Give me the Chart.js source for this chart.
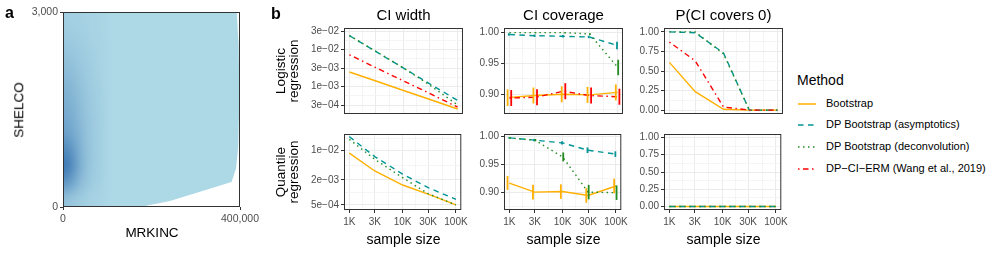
<!DOCTYPE html>
<html>
<head>
<meta charset="utf-8">
<script src="https://cdn.jsdelivr.net/npm/chart.js@4.4.1/dist/chart.umd.min.js"></script>
<style>
  body { margin: 0; width: 997px; height: 253px; overflow: hidden; position: relative; background: #fff;
         font-family: "Liberation Sans", Arial, Helvetica, sans-serif; }
  canvas { position: absolute; }
  .t { position: absolute; white-space: nowrap; line-height: 1; color: #000; }
  .c { transform: translateX(-50%); }
  .r { transform: translate(-50%, -50%) rotate(-90deg); text-align: center; }
  .bold { font-weight: bold; }
</style>
</head>
<body>
<div class="t bold" style="left:5px;top:5px;font-size:16px">a</div>
<div class="t bold" style="left:271px;top:6px;font-size:16px">b</div>

<div class="t r" style="left:19px;top:110px;font-size:13.5px">SHELCO</div>
<div class="t c" style="left:152px;top:226px;font-size:13.5px">MRKINC</div>

<div class="t c" style="left:403.5px;top:7px;font-size:15px">CI width</div>
<div class="t c" style="left:563.5px;top:7px;font-size:15px">CI coverage</div>
<div class="t c" style="left:723.5px;top:7px;font-size:15px">P(CI covers 0)</div>

<div class="t r" style="left:286.5px;top:71px;font-size:13.5px;line-height:13px">Logistic<br>regression</div>
<div class="t r" style="left:286.5px;top:172px;font-size:13.5px;line-height:13px">Quantile<br>regression</div>

<div class="t c" style="left:403.5px;top:232px;font-size:14px">sample size</div>
<div class="t c" style="left:563.5px;top:232px;font-size:14px">sample size</div>
<div class="t c" style="left:723.5px;top:232px;font-size:14px">sample size</div>

<div class="t" style="left:797px;top:73px;font-size:14px">Method</div>
<div id="legend"></div>

<script>
// ---- panel a: MRKINC vs SHELCO density ----
const regionX = [0, 173600, 241500, 381000, 391000, 396000, 398500, 397000, 392500, 0];
const regionY = [0, 0, 92, 385, 591, 925, 1644, 2500, 3000, 3000];
// density cells over MRKINC 0..120k, SHELCO 0..3000 (rows top -> bottom), 0 = light, 1 = darkest
const densityX = [0, 120000];
const densityY = [0, 3000];
const densityGrid = [
  [0.10, 0.09, 0.08, 0.07, 0.05, 0.04, 0.02, 0],
  [0.15, 0.13, 0.11, 0.09, 0.06, 0.05, 0.02, 0],
  [0.22, 0.19, 0.15, 0.12, 0.08, 0.06, 0.03, 0],
  [0.30, 0.26, 0.20, 0.15, 0.10, 0.07, 0.03, 0],
  [0.38, 0.33, 0.25, 0.18, 0.12, 0.08, 0.03, 0],
  [0.45, 0.40, 0.30, 0.21, 0.14, 0.09, 0.04, 0],
  [0.52, 0.45, 0.34, 0.23, 0.15, 0.10, 0.04, 0],
  [0.62, 0.52, 0.38, 0.25, 0.16, 0.10, 0.04, 0],
  [0.85, 0.68, 0.45, 0.28, 0.17, 0.10, 0.04, 0],
  [1.00, 0.78, 0.48, 0.28, 0.16, 0.10, 0.04, 0],
  [0.70, 0.55, 0.35, 0.22, 0.13, 0.08, 0.03, 0],
  [0.25, 0.20, 0.14, 0.10, 0.07, 0.05, 0.02, 0]
];
const mrkincTicks = [0, 400000];
const shelcoTicks = [0, 3000];

// ---- panel b ----
const sampleSizes = [1000, 3000, 10000, 30000, 100000];
const sizeLabels = ['1K', '3K', '10K', '30K', '100K'];
const methodNames = ['Bootstrap', 'DP Bootstrap (asymptotics)', 'DP Bootstrap (deconvolution)',
                     'DP\u2212CI\u2212ERM (Wang et al., 2019)'];

// CI width
const logitWidthBoot   = [2.4e-3, 1.39e-3, 7.6e-4, 4.4e-4, 2.4e-4];
const logitWidthAsym   = [2.3e-2, 8.8e-3, 3.06e-3, 1.17e-3, 4.1e-4];
const logitWidthDeconv = [2.32e-2, 8.9e-3, 3.1e-3, 1.08e-3, 3.1e-4];
const logitWidthErm    = [7.0e-3, 3.2e-3, 1.38e-3, 6.4e-4, 2.7e-4];
const quantWidthBoot   = [8.7e-3, 3.26e-3, 1.5e-3, 9.1e-4, 5.0e-4];
const quantWidthAsym   = [2.17e-2, 7.2e-3, 2.75e-3, 1.3e-3, 6.8e-4];
const quantWidthDeconv = [1.87e-2, 6.2e-3, 2.25e-3, 9.3e-4, 5.0e-4];

// CI coverage with interval ends
const logitCovBoot     = [0.895, 0.898, 0.900, 0.899, 0.903];
const logitCovBootLo   = [0.881, 0.885, 0.887, 0.886, 0.890];
const logitCovBootHi   = [0.908, 0.911, 0.913, 0.912, 0.916];
const logitCovAsym     = [0.997, 0.995, 0.994, 0.993, 0.979];
const logitCovAsymLo   = [0.995, 0.993, 0.992, 0.991, 0.973];
const logitCovAsymHi   = [0.999, 0.997, 0.996, 0.995, 0.985];
const logitCovDeconv   = [1.000, 1.000, 1.000, 0.998, 0.944];
const logitCovDeconvLo = [1.000, 0.999, 0.999, 0.997, 0.931];
const logitCovDeconvHi = [1.000, 1.000, 1.000, 0.999, 0.956];
const logitCovErm      = [0.894, 0.895, 0.905, 0.898, 0.896];
const logitCovErmLo    = [0.881, 0.882, 0.892, 0.885, 0.883];
const logitCovErmHi    = [0.907, 0.908, 0.918, 0.911, 0.909];
const quantCovBoot     = [0.916, 0.900, 0.901, 0.894, 0.911];
const quantCovBootLo   = [0.904, 0.887, 0.888, 0.881, 0.898];
const quantCovBootHi   = [0.929, 0.913, 0.914, 0.907, 0.924];
const quantCovAsym     = [0.997, 0.993, 0.988, 0.975, 0.968];
const quantCovAsymLo   = [0.996, 0.991, 0.985, 0.970, 0.963];
const quantCovAsymHi   = [0.998, 0.995, 0.991, 0.980, 0.973];
const quantCovDeconv   = [0.997, 0.993, 0.963, 0.900, 0.899];
const quantCovDeconvLo = [0.996, 0.991, 0.955, 0.887, 0.886];
const quantCovDeconvHi = [0.998, 0.995, 0.971, 0.913, 0.912];

// P(CI covers 0)
const logitP0Boot   = [0.61, 0.235, 0.01, 0, 0];
const logitP0Asym   = [1.00, 0.99, 0.73, 0, 0];
const logitP0Deconv = [1.00, 1.00, 0.72, 0, 0];
const logitP0Erm    = [0.87, 0.63, 0.04, 0, 0];
const quantP0Boot   = [0, 0, 0, 0, 0];
const quantP0Asym   = [0, 0, 0, 0, 0];
const quantP0Deconv = [0, 0, 0, 0, 0];

// axis breaks
const logitWidthTicks = [3e-4, 1e-3, 3e-3, 1e-2, 3e-2];
const quantWidthTicks = [5e-4, 2e-3, 1e-2];
const coverageTicks = [0.90, 0.95, 1.00];
const p0Ticks = [0, 0.25, 0.5, 0.75, 1];

// styles
const methodColors = ['#FFB000', '#009494', '#228B22', '#FF0000'];
const methodDash = [[], [5.5, 4.5], [1.5, 3.5], [1.5, 3.5, 5.5, 3.5]];
const tickFont = { family: "'Liberation Sans', Arial, sans-serif", size: 10 };
const tickGrey = '#4D4D4D';
const frameGrey = '#333333';

Chart.defaults.font.family = "'Liberation Sans', Arial, sans-serif";

const colLeft = [344, 504, 664], panelW = 119;
const rowTop = [28, 134], rowH = [86, 76];
const PAD = 8, YW = 48, XH = 18;

const panelBox = {
  id: 'panelBox',
  afterDraw(chart) {
    const a = chart.chartArea, ctx = chart.ctx;
    ctx.save();
    ctx.strokeStyle = frameGrey;
    ctx.lineWidth = 1;
    ctx.strokeRect(a.left + 0.5, a.top + 0.5, a.right - a.left - 1, a.bottom - a.top - 1);
    ctx.restore();
  }
};

const errorBars = {
  id: 'errorBars',
  afterDatasetsDraw(chart) {
    const { ctx, scales: { x, y } } = chart;
    chart.data.datasets.forEach(ds => {
      if (!ds.errLo) return;
      ctx.save();
      ctx.strokeStyle = ds.borderColor;
      ctx.lineWidth = 1.8;
      ds.data.forEach((p, k) => {
        const px = x.getPixelForValue(p.x) + ds.dodge;
        ctx.beginPath();
        ctx.moveTo(px, y.getPixelForValue(ds.errLo[k]));
        ctx.lineTo(px, y.getPixelForValue(ds.errHi[k]));
        ctx.stroke();
      });
      ctx.restore();
    });
  }
};

// major breaks plus ggplot-style minor breaks (midpoints) inside [min, max]
function gridTicks(major, min, max, log) {
  const f = log ? Math.log10 : v => v;
  const g = log ? v => Math.pow(10, v) : v => v;
  const t = major.map(f);
  const d = t[1] - t[0];
  const ext = [t[0] - d].concat(t, [t[t.length - 1] + d]);
  const out = major.map(v => ({ value: v, major: true }));
  for (let i = 0; i < ext.length - 1; i++) out.push({ value: g((ext[i] + ext[i + 1]) / 2), major: false });
  return out.filter(o => o.value >= min * 0.9999 && o.value <= max * 1.0001 || (o.value >= min && o.value <= max))
            .sort((a, b) => a.value - b.value);
}

function sci(v) {
  const [m, e] = v.toExponential(0).split('e');
  const n = parseInt(e, 10);
  return m + 'e' + (n < 0 ? '\u2212' : '+') + String(Math.abs(n)).padStart(2, '0');
}

const gridStyle = {
  color: c => c.tick && c.tick.major ? '#EBEBEB' : '#F3F3F3',
  lineWidth: c => c.tick && c.tick.major ? 1 : 0.8,
  tickColor: c => c.tick && c.tick.major ? frameGrey : 'rgba(0,0,0,0)',
  tickWidth: 1,
  tickLength: 3
};

const xMin = 794.3, xMax = 125893;
const sizeLabelOf = {};
sampleSizes.forEach((n, i) => { sizeLabelOf[n] = sizeLabels[i]; });

function makePanel(col, row, axis, series) {
  const h = rowH[row], bottomRow = row === 1;
  const cv = document.createElement('canvas');
  cv.width = YW + panelW + PAD;
  cv.height = PAD + h + (bottomRow ? XH : PAD);
  cv.style.left = (colLeft[col] - YW) + 'px';
  cv.style.top = (rowTop[row] - PAD) + 'px';
  document.body.appendChild(cv);
  const isLog = axis.type === 'logarithmic';
  new Chart(cv, {
    type: 'line',
    data: {
      datasets: series.map(s => ({
        label: methodNames[s.m],
        data: sampleSizes.map((n, k) => ({ x: n, y: s.y[k] })),
        borderColor: methodColors[s.m],
        borderDash: methodDash[s.m],
        borderWidth: 1.4,
        pointRadius: 0,
        fill: false,
        tension: 0,
        order: 4 - s.m,
        errLo: s.lo,
        errHi: s.hi,
        dodge: (s.m - 1.5) * 1.2
      }))
    },
    options: {
      responsive: false, animation: false, devicePixelRatio: 1,
      layout: { padding: { top: PAD, right: PAD, bottom: bottomRow ? 0 : PAD, left: 0 } },
      plugins: { legend: { display: false }, tooltip: { enabled: false } },
      scales: {
        x: {
          type: 'logarithmic', min: xMin, max: xMax, bounds: 'data',
          afterBuildTicks: sc => { sc.ticks = gridTicks(sampleSizes, xMin, xMax, true); },
          afterFit: sc => { sc.height = bottomRow ? XH : 0; },
          border: { display: false },
          grid: Object.assign({ drawTicks: bottomRow }, gridStyle),
          ticks: {
            display: bottomRow, autoSkip: false, maxRotation: 0, padding: 3,
            font: tickFont, color: tickGrey,
            callback: (v, i, ticks) => ticks[i].major ? sizeLabelOf[ticks[i].value] : ''
          }
        },
        y: {
          type: axis.type, min: axis.min, max: axis.max, bounds: 'data',
          afterBuildTicks: sc => { sc.ticks = gridTicks(axis.major, axis.min, axis.max, isLog); },
          afterFit: sc => { sc.width = YW; },
          border: { display: false },
          grid: gridStyle,
          ticks: {
            autoSkip: false, padding: 2, font: tickFont, color: tickGrey,
            callback: (v, i, ticks) => ticks[i].major ? axis.fmt(ticks[i].value) : ''
          }
        }
      }
    },
    plugins: [errorBars, panelBox]
  });
}

const fixed2 = v => v.toFixed(2);
const logitWidthAxis = { type: 'logarithmic', min: 1.76e-4, max: 0.0371, major: logitWidthTicks, fmt: sci };
const quantWidthAxis = { type: 'logarithmic', min: 3.78e-4, max: 0.0251, major: quantWidthTicks, fmt: sci };
const logitCovAxis = { type: 'linear', min: 0.868, max: 1.0075, major: coverageTicks, fmt: fixed2 };
const quantCovAxis = { type: 'linear', min: 0.868, max: 1.004, major: coverageTicks, fmt: fixed2 };
const p0Axis = { type: 'linear', min: -0.05, max: 1.05, major: p0Ticks, fmt: fixed2 };

makePanel(0, 0, logitWidthAxis, [
  { m: 0, y: logitWidthBoot }, { m: 1, y: logitWidthAsym },
  { m: 2, y: logitWidthDeconv }, { m: 3, y: logitWidthErm }]);
makePanel(1, 0, logitCovAxis, [
  { m: 0, y: logitCovBoot, lo: logitCovBootLo, hi: logitCovBootHi },
  { m: 1, y: logitCovAsym, lo: logitCovAsymLo, hi: logitCovAsymHi },
  { m: 2, y: logitCovDeconv, lo: logitCovDeconvLo, hi: logitCovDeconvHi },
  { m: 3, y: logitCovErm, lo: logitCovErmLo, hi: logitCovErmHi }]);
makePanel(2, 0, p0Axis, [
  { m: 0, y: logitP0Boot }, { m: 1, y: logitP0Asym },
  { m: 2, y: logitP0Deconv }, { m: 3, y: logitP0Erm }]);
makePanel(0, 1, quantWidthAxis, [
  { m: 0, y: quantWidthBoot }, { m: 1, y: quantWidthAsym }, { m: 2, y: quantWidthDeconv }]);
makePanel(1, 1, quantCovAxis, [
  { m: 0, y: quantCovBoot, lo: quantCovBootLo, hi: quantCovBootHi },
  { m: 1, y: quantCovAsym, lo: quantCovAsymLo, hi: quantCovAsymHi },
  { m: 2, y: quantCovDeconv, lo: quantCovDeconvLo, hi: quantCovDeconvHi }]);
makePanel(2, 1, p0Axis, [
  { m: 0, y: quantP0Boot }, { m: 1, y: quantP0Asym }, { m: 2, y: quantP0Deconv }]);

// ---- panel a chart ----
const lightRGB = [173, 216, 230], darkRGB = [66, 125, 183];
const densityLayer = {
  id: 'densityLayer',
  afterDatasetsDraw(chart) {
    const { ctx, scales: { x, y } } = chart;
    const rows = densityGrid.length, cols = densityGrid[0].length;
    const off = document.createElement('canvas');
    off.width = cols; off.height = rows;
    const octx = off.getContext('2d');
    const img = octx.createImageData(cols, rows);
    densityGrid.forEach((r, ri) => r.forEach((v, ci) => {
      const k = (ri * cols + ci) * 4;
      for (let j = 0; j < 3; j++) img.data[k + j] = Math.round(lightRGB[j] + (darkRGB[j] - lightRGB[j]) * v);
      img.data[k + 3] = 255;
    }));
    octx.putImageData(img, 0, 0);
    const x0 = x.getPixelForValue(densityX[0]), x1 = x.getPixelForValue(densityX[1]);
    const y0 = y.getPixelForValue(densityY[1]), y1 = y.getPixelForValue(densityY[0]);
    ctx.save();
    ctx.imageSmoothingEnabled = true;
    ctx.imageSmoothingQuality = 'high';
    ctx.drawImage(off, x0, y0, x1 - x0, y1 - y0);
    ctx.restore();
  }
};

const cvA = document.createElement('canvas');
cvA.width = 280; cvA.height = 253;
cvA.style.left = '0px'; cvA.style.top = '0px';
document.body.insertBefore(cvA, document.body.firstChild);
new Chart(cvA, {
  type: 'line',
  data: {
    datasets: [{
      data: regionX.map((v, i) => ({ x: v, y: regionY[i] })),
      fill: 'shape',
      backgroundColor: 'rgb(173,216,230)',
      borderColor: 'rgba(0,0,0,0)',
      borderWidth: 0,
      pointRadius: 0,
      tension: 0
    }]
  },
  options: {
    responsive: false, animation: false, devicePixelRatio: 1,
    layout: { padding: { top: 12, right: 40, bottom: 0, left: 0 } },
    plugins: { legend: { display: false }, tooltip: { enabled: false } },
    scales: {
      x: {
        type: 'linear', min: 0, max: 400000, bounds: 'data',
        afterBuildTicks: sc => { sc.ticks = mrkincTicks.map(v => ({ value: v })); },
        afterFit: sc => { sc.height = 46; },
        border: { display: false },
        grid: { drawOnChartArea: false, tickColor: frameGrey, tickLength: 3, tickWidth: 1 },
        ticks: { autoSkip: false, maxRotation: 0, padding: 3, font: { size: 10.5 }, color: tickGrey,
                 callback: v => v.toLocaleString('en-US') }
      },
      y: {
        type: 'linear', min: 0, max: 3000, bounds: 'data',
        afterBuildTicks: sc => { sc.ticks = shelcoTicks.map(v => ({ value: v })); },
        afterFit: sc => { sc.width = 63; },
        border: { display: false },
        grid: { drawOnChartArea: false, tickColor: frameGrey, tickLength: 3, tickWidth: 1 },
        ticks: { autoSkip: false, padding: 2, font: { size: 10.5 }, color: tickGrey,
                 callback: v => v.toLocaleString('en-US') }
      }
    }
  },
  plugins: [densityLayer, panelBox]
});

// ---- legend ----
const legendY = [103.5, 125.2, 146.8, 168.5];
const leg = document.getElementById('legend');
methodNames.forEach((name, i) => {
  const svg = document.createElementNS('http://www.w3.org/2000/svg', 'svg');
  svg.setAttribute('width', '20'); svg.setAttribute('height', '4');
  svg.style.position = 'absolute';
  svg.style.left = '797px';
  svg.style.top = (legendY[i] - 2) + 'px';
  const ln = document.createElementNS('http://www.w3.org/2000/svg', 'line');
  ln.setAttribute('x1', '1'); ln.setAttribute('x2', '19');
  ln.setAttribute('y1', '2'); ln.setAttribute('y2', '2');
  ln.setAttribute('stroke', methodColors[i]);
  ln.setAttribute('stroke-width', '1.5');
  if (methodDash[i].length) ln.setAttribute('stroke-dasharray', methodDash[i].join(' '));
  svg.appendChild(ln);
  leg.appendChild(svg);
  const d = document.createElement('div');
  d.className = 't';
  d.style.left = '826px';
  d.style.top = (legendY[i] - 6) + 'px';
  d.style.fontSize = '11px';
  d.textContent = name;
  leg.appendChild(d);
});
</script>
</body>
</html>
